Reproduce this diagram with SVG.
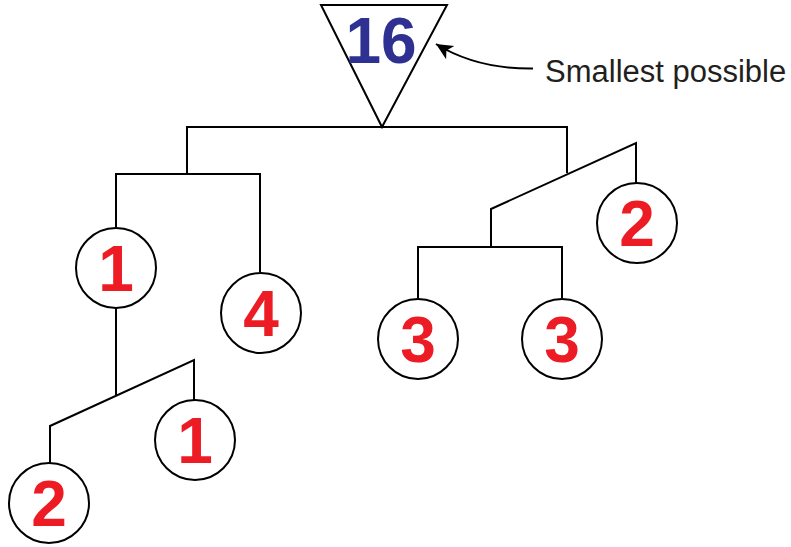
<svg xmlns="http://www.w3.org/2000/svg" width="791" height="547" viewBox="0 0 791 547">
<style>
.ln{fill:none;stroke:#000;stroke-width:2;stroke-linejoin:miter}
.nd circle{fill:#fff;stroke:#000;stroke-width:2}
.dg{font-family:"Liberation Sans",Arial,sans-serif;font-weight:bold;font-size:64px;fill:#ED1C24;text-anchor:middle}
.lb{font-family:"Liberation Sans",Arial,sans-serif;font-size:31px;fill:#231F20}
</style>
<defs>
<marker id="ah" markerUnits="userSpaceOnUse" markerWidth="20" markerHeight="20" viewBox="-16 -8 18 16" refX="0" refY="0" orient="auto">
<path d="M0,0 L-15,-7 L-11,0 L-15,7 Z" fill="#000"/>
</marker>
</defs>
<g id="connectors">
<path class="ln" d="M187,174 V127 H567 V173"/>
<path class="ln" d="M116,227 V174 H260 V272"/>
<path class="ln" d="M116,308 V395"/>
<path class="ln" d="M50,463 V426 L194,360 V400"/>
<path class="ln" d="M491,247 V209 L636,143 V183"/>
<path class="ln" d="M418,298 V247 H562 V298"/>
<path class="ln" d="M533,68.5 C495,69 462,60 436,44" marker-end="url(#ah)"/>
</g>
<g id="root">
<polygon points="321,5 447,5 382,127" fill="#fff" stroke="#000" stroke-width="2"/>
<text x="381" y="63" class="dg" style="fill:#2E3192" font-size="62">16</text>
</g>
<text class="lb" x="545" y="82">Smallest possible</text>
<g id="n1" class="nd"><circle cx="116" cy="268" r="40"/><text class="dg" x="116" y="291">1</text></g>
<g id="n4" class="nd"><circle cx="261" cy="313" r="40"/><text class="dg" x="261" y="336">4</text></g>
<g id="n1b" class="nd"><circle cx="195" cy="440" r="40"/><text class="dg" x="195" y="463">1</text></g>
<g id="n2a" class="nd"><circle cx="49" cy="503" r="40"/><text class="dg" x="49" y="526">2</text></g>
<g id="n2b" class="nd"><circle cx="637" cy="223" r="40"/><text class="dg" x="637" y="246">2</text></g>
<g id="n3a" class="nd"><circle cx="418" cy="339" r="40"/><text class="dg" x="418" y="362">3</text></g>
<g id="n3b" class="nd"><circle cx="562" cy="339" r="40"/><text class="dg" x="562" y="362">3</text></g>
</svg>
